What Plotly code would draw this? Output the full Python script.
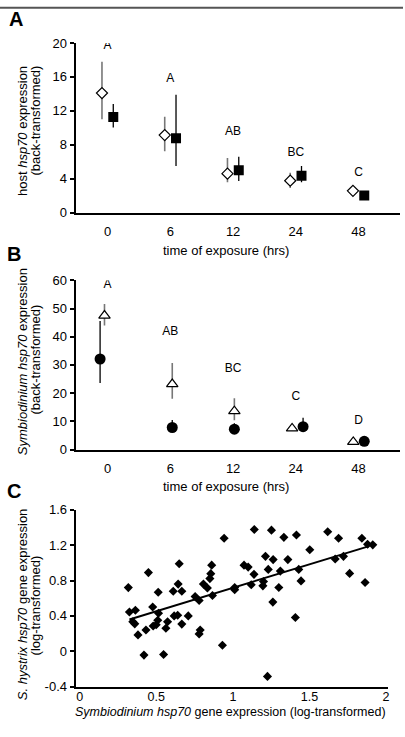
import plotly.graph_objects as go

# ---------------- data ----------------
times = ["0", "6", "12", "24", "48"]

# Panel A: host hsp70 expression (back-transformed)
host_open = [14.1, 9.15, 4.6, 3.77, 2.58]
host_open_hi = [17.8, 11.3, 6.46, 4.7, 3.15]
host_open_lo = [11.0, 7.25, 3.58, 2.9, 2.1]
host_fill = [11.27, 8.77, 5.0, 4.35, 2.04]
host_fill_hi = [12.8, 13.9, 6.6, 5.5, 2.4]
host_fill_lo = [10.05, 5.5, 3.73, 3.58, 1.75]
host_letters = ["A", "A", "AB", "BC", "C"]
host_letter_y = [19.6, 15.7, 9.5, 7.0, 4.7]

# Panel B: Symbiodinium hsp70 expression (back-transformed)
sym_open = [47.5, 23.2, 13.6, 7.5, 2.7]
sym_open_hi = [51.6, 30.7, 18.2, 8.5, 3.3]
sym_open_lo = [44.0, 18.0, 10.4, 6.8, 2.3]
sym_fill = [32.1, 7.8, 7.2, 8.1, 2.9]
sym_fill_hi = [45.6, 10.5, 9.3, 11.3, 3.4]
sym_fill_lo = [23.6, 7.0, 6.5, 7.5, 2.5]
sym_letters = ["A", "AB", "BC", "C", "D"]
sym_letter_y = [58.5, 41.5, 28.4, 18.5, 10.1]

# Panel C: scatter of log-transformed expression
sym_log = [0.318, 0.325, 0.364, 0.347, 0.36, 0.381, 0.42, 0.433, 0.449, 0.477,
           0.48, 0.50, 0.51, 0.513, 0.515, 0.548, 0.563, 0.574, 0.611, 0.617,
           0.64, 0.643, 0.65, 0.667, 0.667, 0.709, 0.754, 0.78, 0.787, 0.78,
           0.808, 0.834, 0.85, 0.856, 0.862, 0.867, 0.932, 0.943, 1.012, 1.012,
           1.073, 1.10, 1.12, 1.138, 1.14, 1.196, 1.20, 1.213, 1.231, 1.226,
           1.252, 1.261, 1.263, 1.30, 1.31, 1.333, 1.359, 1.408, 1.415, 1.43,
           1.445, 1.502, 1.619, 1.668, 1.69, 1.722, 1.762, 1.842, 1.863, 1.879,
           1.913]
host_log = [0.72, 0.444, 0.463, 0.333, 0.31, 0.185, -0.044, 0.24, 0.89, 0.50,
            0.285, 0.30, 0.35, 0.667, 0.43, -0.037, 0.26, 0.333, 0.678, 0.40,
            0.407, 0.76, 0.99, 0.678, 0.307, 0.40, 0.618, 0.574, 0.24, 0.196,
            0.76, 0.715, 0.822, 0.878, 0.974, 0.63, 0.067, 1.278, 0.722, 0.696,
            0.974, 0.952, 0.752, 0.87, 1.378, 0.74, 0.789, 1.074, 0.926, -0.285,
            1.37, 0.556, 1.037, 0.722, 0.907, 1.289, 1.037, 0.381, 1.315, 0.926,
            0.796, 1.148, 1.352, 1.044, 1.278, 1.074, 0.881, 1.278, 0.778, 1.211,
            1.204]
trend_x = [0.325, 1.89]
trend_y = [0.36, 1.19]

# ---------------- styling constants ----------------
FONT = "Arial, Liberation Sans, sans-serif"
W, H = 405, 737
OPEN_OFF_A, FILL_OFF_A = -0.09, 0.09
OPEN_OFF_B = [-0.05, 0.03, 0.02, -0.06, -0.085]
FILL_OFF_B = [-0.12, 0.03, 0.02, 0.115, 0.09]


def px(x):
    return x / W


def py(y):
    return 1 - y / H


idx = list(range(len(times)))
fig = go.Figure()

# ---- Panel A ----
fig.add_trace(go.Scatter(
    x=[i + OPEN_OFF_A for i in idx], y=host_open, mode="markers",
    marker=dict(symbol="diamond", size=8.5, color="white", line=dict(color="black", width=1.2)),
    error_y=dict(type="data", symmetric=False,
                 array=[h - v for h, v in zip(host_open_hi, host_open)],
                 arrayminus=[v - l for l, v in zip(host_open_lo, host_open)],
                 color="#777777", thickness=1.6, width=0),
    xaxis="x", yaxis="y", showlegend=False))
fig.add_trace(go.Scatter(
    x=[i + FILL_OFF_A for i in idx], y=host_fill, mode="markers",
    marker=dict(symbol="square", size=10, color="black"),
    error_y=dict(type="data", symmetric=False,
                 array=[h - v for h, v in zip(host_fill_hi, host_fill)],
                 arrayminus=[v - l for l, v in zip(host_fill_lo, host_fill)],
                 color="black", thickness=1.3, width=0),
    xaxis="x", yaxis="y", showlegend=False))
fig.add_trace(go.Scatter(
    x=idx, y=host_letter_y, mode="text", text=host_letters,
    textfont=dict(family=FONT, size=12, color="black"),
    xaxis="x", yaxis="y", showlegend=False))

# ---- Panel B ----
fig.add_trace(go.Scatter(
    x=[i + o for i, o in zip(idx, FILL_OFF_B)], y=sym_fill, mode="markers",
    marker=dict(symbol="circle", size=11, color="black"),
    error_y=dict(type="data", symmetric=False,
                 array=[h - v for h, v in zip(sym_fill_hi, sym_fill)],
                 arrayminus=[v - l for l, v in zip(sym_fill_lo, sym_fill)],
                 color="black", thickness=1.3, width=0),
    xaxis="x2", yaxis="y2", showlegend=False))
fig.add_trace(go.Scatter(
    x=[i + o for i, o in zip(idx, OPEN_OFF_B)], y=sym_open, mode="markers",
    marker=dict(symbol="triangle-up", size=10, color="white", line=dict(color="black", width=1.2)),
    error_y=dict(type="data", symmetric=False,
                 array=[h - v for h, v in zip(sym_open_hi, sym_open)],
                 arrayminus=[v - l for l, v in zip(sym_open_lo, sym_open)],
                 color="#777777", thickness=1.6, width=0),
    xaxis="x2", yaxis="y2", showlegend=False))
fig.add_trace(go.Scatter(
    x=idx, y=sym_letter_y, mode="text", text=sym_letters,
    textfont=dict(family=FONT, size=12, color="black"),
    xaxis="x2", yaxis="y2", showlegend=False))

# ---- Panel C ----
fig.add_trace(go.Scatter(
    x=sym_log, y=host_log, mode="markers",
    marker=dict(symbol="diamond", size=7, color="black"),
    xaxis="x3", yaxis="y3", showlegend=False))
fig.add_trace(go.Scatter(
    x=trend_x, y=trend_y, mode="lines", line=dict(color="black", width=2),
    xaxis="x3", yaxis="y3", showlegend=False))

axis_common = dict(showgrid=False, zeroline=False, showline=True, linecolor="black",
                   linewidth=2, tickfont=dict(family=FONT, size=13, color="black"))

cat_x = dict(axis_common, range=[-0.51, 4.66], tickmode="array", tickvals=idx,
             ticktext=times, ticks="", ticklabelstandoff=6)

fig.update_layout(
    width=W, height=H, margin=dict(l=0, r=0, t=0, b=0),
    paper_bgcolor="white", plot_bgcolor="white",
    font=dict(family=FONT, color="black"),
    xaxis=dict(cat_x, domain=[px(76), px(402)], anchor="y"),
    yaxis=dict(axis_common, domain=[py(210), py(36.7)], range=[0, 20],
               tickvals=[0, 4, 8, 12, 16, 20], ticks="outside", ticklen=4,
               tickwidth=1.5, tickcolor="black", anchor="x"),
    xaxis2=dict(cat_x, domain=[px(76), px(402)], anchor="y2"),
    yaxis2=dict(axis_common, domain=[py(451.7), py(279)], range=[0, 60],
                tickvals=[0, 10, 20, 30, 40, 50, 60], ticks="outside", ticklen=4,
                tickwidth=1.5, tickcolor="black", anchor="x2"),
    xaxis3=dict(axis_common, domain=[px(76), px(390)], range=[-0.026, 2.013],
                tickvals=[0, 0.5, 1, 1.5, 2], ticktext=["0", "0.5", "1", "1.5", "2"],
                ticks="", ticklabelstandoff=-3, tickfont=dict(family=FONT, size=12.5, color="black"),
                anchor="y3"),
    yaxis3=dict(axis_common, domain=[py(693.7), py(513.3)], range=[-0.4, 1.6],
                tickvals=[-0.4, 0, 0.4, 0.8, 1.2, 1.6],
                ticktext=["-0.4", "0", "0.4", "0.8", "1.2", "1.6"],
                ticks="outside", ticklen=4, tickwidth=1.5, tickcolor="black", anchor="x3"),
)

ann = []


def add_text(text, x, y, size=13, angle=0, bold=False):
    ann.append(dict(text=("<b>%s</b>" % text) if bold else text, x=px(x), y=py(y),
                    xref="paper", yref="paper", showarrow=False, textangle=angle,
                    xanchor="center", yanchor="middle",
                    font=dict(family=FONT, size=size, color="black")))


# panel labels
add_text("A", 16, 12.5, size=20, bold=True)
add_text("B", 14, 252, size=20, bold=True)
add_text("C", 14, 494, size=20, bold=True)
# y titles
add_text("host <i>hsp70</i> expression", 22.7, 127, angle=-90)
add_text("(back-transformed)", 36, 116, angle=-90)
add_text("<i>Symbiodinium hsp70</i> expression", 22.7, 362, angle=-90)
add_text("(back-transformed)", 36, 360, angle=-90)
add_text("<i>S. hystrix hsp70</i> gene expression", 22.7, 610, angle=-90)
add_text("(log-transformed)", 36, 611, angle=-90)
# x titles
add_text("time of exposure (hrs)", 227, 249)
add_text("time of exposure (hrs)", 227, 489)
add_text("<i>Symbiodinium hsp70</i> gene expression (log-transformed)", 232, 720, size=12.5)

fig.update_layout(annotations=ann)
fig.add_shape(type="line", xref="paper", yref="paper", x0=0, x1=1, y0=py(0.8), y1=py(0.8),
              line=dict(color="#555555", width=2))

fig.write_html("out.html", config={"displayModeBar": False},
               post_script="document.body.style.margin='0';document.body.style.overflow='hidden';")
